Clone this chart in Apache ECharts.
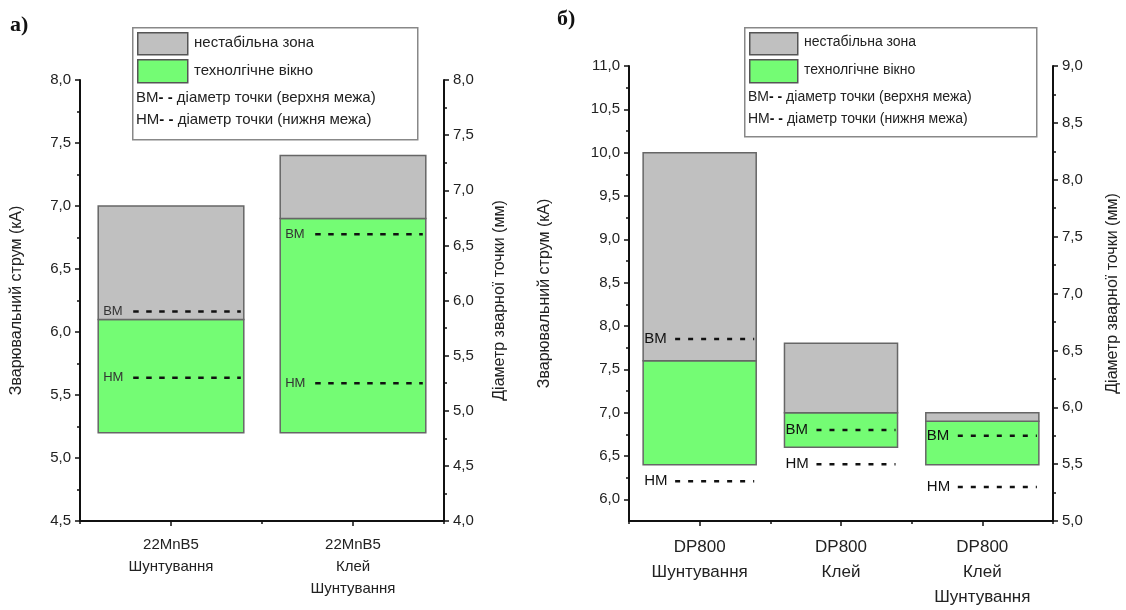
<!DOCTYPE html>
<html>
<head>
<meta charset="utf-8">
<script src="https://cdn.jsdelivr.net/npm/echarts@6.0.0/dist/echarts.min.js"></script>
<style>
    html, body { margin: 0; padding: 0; background: #fff; }
    #chart { width: 1126px; height: 610px; }
</style>
</head>
<body>
<div id="chart"></div>
<script>
    // а) 22MnB5
    const cats1 = ['22MnB5\nШунтування', '22MnB5\nКлей\nШунтування']
    const windowLow1 = [5.2, 5.2]        // кА
    const windowTop1 = [6.1, 6.9]        // кА
    const unstableTop1 = [7.0, 7.4]      // кА
    const upperDiam1 = [5.9, 6.6]        // мм
    const lowerDiam1 = [5.3, 5.25]       // мм

    // б) DP800
    const cats2 = ['DP800\nШунтування', 'DP800\nКлей', 'DP800\nКлей\nШунтування']
    const windowLow2 = [6.4, 6.6, 6.4]
    const windowTop2 = [7.6, 7.0, 6.9]
    const unstableTop2 = [10.0, 7.8, 7.0]
    const upperDiam2 = [6.6, 5.8, 5.75]
    const lowerDiam2 = [5.35, 5.5, 5.3]

    // tick values of the current axis in б) (axis starts at 5.75)
    const currentTicks2 = [6.0, 6.5, 7.0, 7.5, 8.0, 8.5, 9.0, 9.5, 10.0, 10.5, 11.0]
    const currentMinor2 = [6.25, 6.75, 7.25, 7.75, 8.25, 8.75, 9.25, 9.75, 10.25, 10.75]

    const FONT = '"Liberation Sans", Arial, sans-serif'
    const GREEN = '#74fc74'
    const GREY = '#c0c0c0'
    const BAR_RATIO = 0.8

    const comma = v => v.toFixed(1).replace('.', ',')

    let myChart = echarts.init(document.getElementById('chart'))

    // value axis with the common look
    function valueAxis(o) {
        return Object.assign({
            type: 'value',
            splitLine: { show: false },
            axisLine: { show: true, lineStyle: { color: '#111', width: 2 } },
            axisTick: { show: true, length: 5, lineStyle: { color: '#111', width: 1.5 } },
            minorTick: { show: true, splitNumber: 2, length: 3, lineStyle: { color: '#111', width: 1.5 } },
            axisLabel: { color: '#222', fontSize: 15, fontFamily: FONT, margin: 9, formatter: comma },
            nameLocation: 'middle',
            nameRotate: 90,
            nameTextStyle: { color: '#222', fontSize: 16, fontFamily: FONT }
        }, o)
    }

    function catAxis(o, label) {
        return Object.assign({
            type: 'category',
            position: 'bottom',
            axisLine: { show: true, lineStyle: { color: '#111', width: 2 } },
            axisTick: { show: true, alignWithLabel: true, length: 5, lineStyle: { color: '#111', width: 1.5 } },
            axisLabel: Object.assign({ color: '#222', fontFamily: FONT, interval: 0 }, label)
        }, o)
    }

    // overlay axis, only the short ticks on the category borders
    function borderTicks(gridIndex, data) {
        return {
            type: 'category', gridIndex: gridIndex, data: data, position: 'bottom',
            axisLine: { show: false },
            axisLabel: { show: false },
            axisTick: { show: true, length: 3, lineStyle: { color: '#111', width: 1.5 } }
        }
    }

    // floating bar: from value(1) to value(2)
    function rangeBars(color) {
        return function (params, api) {
            const i = api.value(0)
            const p0 = api.coord([i, api.value(1)])
            const p1 = api.coord([i, api.value(2)])
            const w = api.size([1, 0])[0] * BAR_RATIO
            return {
                type: 'rect',
                shape: { x: p0[0] - w / 2, y: p1[1], width: w, height: p0[1] - p1[1] },
                style: { fill: color, stroke: '#666', lineWidth: 1.5 }
            }
        }
    }

    // "ВМ - - - -" marker of the weld spot diameter
    function diamMarker(label, cfg) {
        return function (params, api) {
            const i = api.value(0)
            const p = api.coord([i, api.value(1)])
            const w = api.size([1, 0])[0] * BAR_RATIO
            const left = p[0] - w / 2
            return {
                type: 'group',
                children: [
                    {
                        type: 'text',
                        style: {
                            x: left + cfg.textOffset, y: p[1], text: label,
                            fill: cfg.color, font: cfg.font,
                            textVerticalAlign: 'middle', verticalAlign: 'middle'
                        }
                    },
                    {
                        type: 'line',
                        shape: { x1: left + cfg.dashStart, y1: p[1], x2: left + w - cfg.dashEnd, y2: p[1] },
                        style: { stroke: '#111', lineWidth: 2.5, lineDash: cfg.dash }
                    }
                ]
            }
        }
    }

    const cfg1 = { textOffset: 5, dashStart: 35, dashEnd: 3, color: '#333', font: '13px ' + FONT, dash: [5.5, 7.5] }
    const cfg2 = { textOffset: 1, dashStart: 32, dashEnd: 2, color: '#111', font: '15px ' + FONT, dash: [5, 8] }

    const rows = (a, b) => a.map((v, i) => b ? [i, v, b[i]] : [i, v])

    // legend box drawn by hand, it mixes swatches and plain text rows
    function legendBox(x, y, w, h, sw, font) {
        const t = (tx, ty, text) => ({
            type: 'text', left: tx, top: ty - 9,
            style: {
                text: text, font: font, fill: '#222',
                rich: { d: { font: 'bold ' + font, fill: '#111' } }
            }
        })
        return [
            { type: 'rect', left: x, top: y, shape: { width: w, height: h },
              style: { fill: '#fff', stroke: '#888', lineWidth: 1.5 } },
            { type: 'rect', left: x + 5, top: y + 5, shape: { width: sw, height: 22 },
              style: { fill: GREY, stroke: '#555', lineWidth: 1.5 } },
            { type: 'rect', left: x + 5, top: y + 32, shape: { width: sw, height: 23 },
              style: { fill: GREEN, stroke: '#555', lineWidth: 1.5 } },
            t(x + sw + 12, y + 17, 'нестабільна зона'),
            t(x + sw + 12, y + 45, 'технолгічне вікно'),
            t(x + 4, y + 72, 'ВМ{d|- -} діаметр точки (верхня межа)'),
            t(x + 4, y + 94, 'НМ{d|- -} діаметр точки (нижня межа)')
        ]
    }

    const option = {
        animation: false,
        grid: [
            { left: 80, right: 682, top: 80, bottom: 89 },
            { left: 629, right: 73, top: 66, bottom: 87 }
        ],
        xAxis: [
            catAxis({ gridIndex: 0, data: cats1 }, { fontSize: 15, lineHeight: 22, margin: 13 }),
            borderTicks(0, cats1),
            catAxis({ gridIndex: 1, data: cats2 }, { fontSize: 17, lineHeight: 25, margin: 14 }),
            borderTicks(1, cats2)
        ],
        yAxis: [
            valueAxis({ gridIndex: 0, position: 'left', min: 4.5, max: 8, interval: 0.5,
                name: 'Зварювальний струм (кА)', nameGap: 55 }),
            valueAxis({ gridIndex: 0, position: 'right', min: 4, max: 8, interval: 0.5,
                name: 'Діаметр зварної точки (мм)', nameGap: 48 }),
            valueAxis({ gridIndex: 1, position: 'left', min: 5.75, max: 11,
                name: 'Зварювальний струм (кА)', nameGap: 76,
                minorTick: { show: false },
                axisTick: { show: true, length: 5, customValues: currentTicks2, lineStyle: { color: '#111', width: 1.5 } },
                axisLabel: { color: '#222', fontSize: 15, fontFamily: FONT, margin: 9, formatter: comma, customValues: currentTicks2 } }),
            valueAxis({ gridIndex: 1, position: 'right', min: 5, max: 9, interval: 0.5,
                name: 'Діаметр зварної точки (мм)', nameGap: 52 }),
            {
                type: 'value', gridIndex: 1, position: 'left', min: 5.75, max: 11,
                splitLine: { show: false }, axisLine: { show: false }, axisLabel: { show: false },
                axisTick: { show: true, length: 3, customValues: currentMinor2, lineStyle: { color: '#111', width: 1.5 } }
            }
        ],
        series: [
            { type: 'custom', name: 'технолгічне вікно', xAxisIndex: 0, yAxisIndex: 0,
              renderItem: rangeBars(GREEN), encode: { x: 0, y: [1, 2] }, data: rows(windowLow1, windowTop1) },
            { type: 'custom', name: 'нестабільна зона', xAxisIndex: 0, yAxisIndex: 0,
              renderItem: rangeBars(GREY), encode: { x: 0, y: [1, 2] }, data: rows(windowTop1, unstableTop1) },
            { type: 'custom', xAxisIndex: 0, yAxisIndex: 1, z: 5,
              renderItem: diamMarker('ВМ', cfg1), encode: { x: 0, y: 1 }, data: rows(upperDiam1) },
            { type: 'custom', xAxisIndex: 0, yAxisIndex: 1, z: 5,
              renderItem: diamMarker('НМ', cfg1), encode: { x: 0, y: 1 }, data: rows(lowerDiam1) },

            { type: 'custom', name: 'технолгічне вікно', xAxisIndex: 2, yAxisIndex: 2,
              renderItem: rangeBars(GREEN), encode: { x: 0, y: [1, 2] }, data: rows(windowLow2, windowTop2) },
            { type: 'custom', name: 'нестабільна зона', xAxisIndex: 2, yAxisIndex: 2,
              renderItem: rangeBars(GREY), encode: { x: 0, y: [1, 2] }, data: rows(windowTop2, unstableTop2) },
            { type: 'custom', xAxisIndex: 2, yAxisIndex: 3, z: 5,
              renderItem: diamMarker('ВМ', cfg2), encode: { x: 0, y: 1 }, data: rows(upperDiam2) },
            { type: 'custom', xAxisIndex: 2, yAxisIndex: 3, z: 5,
              renderItem: diamMarker('НМ', cfg2), encode: { x: 0, y: 1 }, data: rows(lowerDiam2) }
        ],
        graphic: [
            { type: 'text', left: 10, top: 14,
              style: { text: 'а)', font: 'bold 22px "Liberation Serif", "Times New Roman", serif', fill: '#111' } },
            { type: 'text', left: 557, top: 8,
              style: { text: 'б)', font: 'bold 22px "Liberation Serif", "Times New Roman", serif', fill: '#111' } }
        ].concat(legendBox(132, 27, 285, 112, 50, '15px ' + FONT))
         .concat(legendBox(744, 27, 292, 109, 48, '14px ' + FONT))
    }

    myChart.setOption(option)
</script>
</body>
</html>
